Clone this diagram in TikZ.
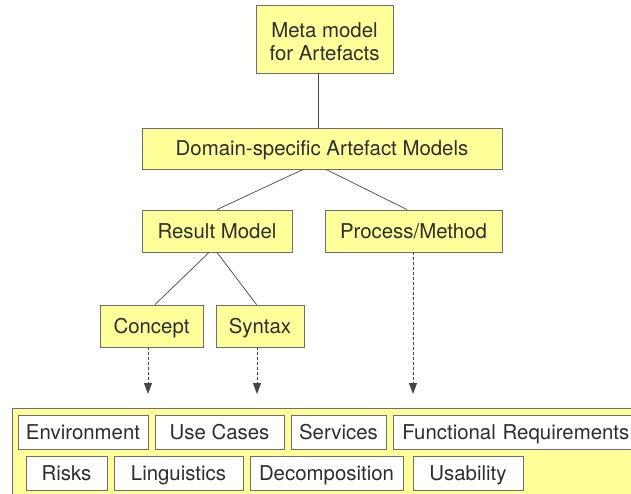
\documentclass[tikz,border=0pt]{standalone}
\usepackage{fontspec}
\setmainfont{TeX Gyre Heros}
\usetikzlibrary{arrows.meta}
\definecolor{boxyellow}{RGB}{255,255,153}
\definecolor{edgegray}{RGB}{110,110,110}
\definecolor{inkgray}{RGB}{45,45,45}
\definecolor{linegray}{RGB}{70,70,70}
\tikzset{
  boxfont/.style={text=inkgray, font=\fontsize{20.4}{23.5}\selectfont},
  ybox/.style={draw=edgegray, line width=0.9pt, fill=boxyellow, boxfont,
    inner sep=0pt, align=center, text height=14.6pt, text depth=0pt},
  wbox/.style={draw=edgegray, line width=0.9pt, fill=white, boxfont,
    inner sep=0pt, minimum height=34pt, text height=14.6pt, text depth=0pt},
  tree/.style={draw=linegray, line width=0.7pt},
  refarrow/.style={draw=linegray, line width=0.8pt, dash pattern=on 3pt off 2pt,
    -{Triangle[length=11pt, width=8pt]}},
}
\begin{document}
\begin{tikzpicture}[x=1pt, y=1pt]
\clip (0,0) rectangle (631,-493);
\fill[white] (0,0) rectangle (631,-493);

% upper hierarchy
\node[ybox, minimum width=137pt, minimum height=68pt] (meta) at (324.5,-39) {};
\node[boxfont, align=center, inner sep=0pt] (metalabel) at ([yshift=-2.5pt]meta.center) {Meta model\\for Artefacts};
\node[ybox, minimum width=360pt, minimum height=41pt] (dom) at (322,-148.5) {Domain-specific Artefact Models};
\node[ybox, minimum width=150pt, minimum height=42pt] (res) at (217,-231) {Result Model};
\node[ybox, minimum width=177pt, minimum height=42pt] (proc) at (413.5,-231) {Process/Method};
\node[ybox, minimum width=103pt, minimum height=42pt] (conc) at (151.5,-326) {Concept};
\node[ybox, minimum width=88pt, minimum height=42pt] (syn) at (260,-326) {Syntax};

% tree connectors
\draw[tree] ([xshift=-6.5pt]meta.south) -- ([xshift=-6.5pt]meta.south |- dom.north);
\draw[tree] ([xshift=-19pt]dom.south) -- (res.north);
\draw[tree] ([xshift=4pt]dom.south) -- ([xshift=-6.5pt]proc.north);
\draw[tree] ([xshift=-8pt]res.south) -- ([xshift=3.5pt]conc.north);
\draw[tree] ([xshift=0pt]res.south) -- ([xshift=-3.5pt]syn.north);

% container of artefact types
\node[draw=edgegray, line width=0.9pt, fill=boxyellow, minimum width=700pt,
  minimum height=120pt, anchor=north west, inner sep=0pt] (pool) at (11.5,-408) {};

% first row
\node[wbox, minimum width=130pt] (env) at (83,-432) {Environment};
\node[wbox, minimum width=129pt] (uc) at (219.5,-432) {Use Cases};
\node[wbox, minimum width=95pt] (srv) at (338.5,-432) {Services};
\node[wbox, minimum width=250pt, anchor=west, text width=250pt, align=left] (fr) at (393,-432) {\hspace*{9pt}Functional Requirements};
% second row
\node[wbox, minimum width=81pt] (risk) at (66.5,-473) {Risks};
\node[wbox, minimum width=129pt] (ling) at (178.5,-473) {Linguistics};
\node[wbox, minimum width=153pt] (dec) at (326.5,-473) {Decomposition};
\node[wbox, minimum width=110pt] (usa) at (468,-473) {Usability};

% references into the artefact pool
\coordinate (t1) at ([xshift=-3.5pt]conc.south |- 0,-394);
\coordinate (t2) at ([xshift=-3pt]syn.south |- 0,-394);
\coordinate (t3) at ([xshift=-0.5pt]proc.south |- 0,-394);
\draw[refarrow] ([xshift=-3.5pt]conc.south) -- (t1);
\draw[refarrow] ([xshift=-3pt]syn.south) -- (t2);
\draw[refarrow] ([xshift=-0.5pt]proc.south) -- (t3);
\end{tikzpicture}
\end{document}
